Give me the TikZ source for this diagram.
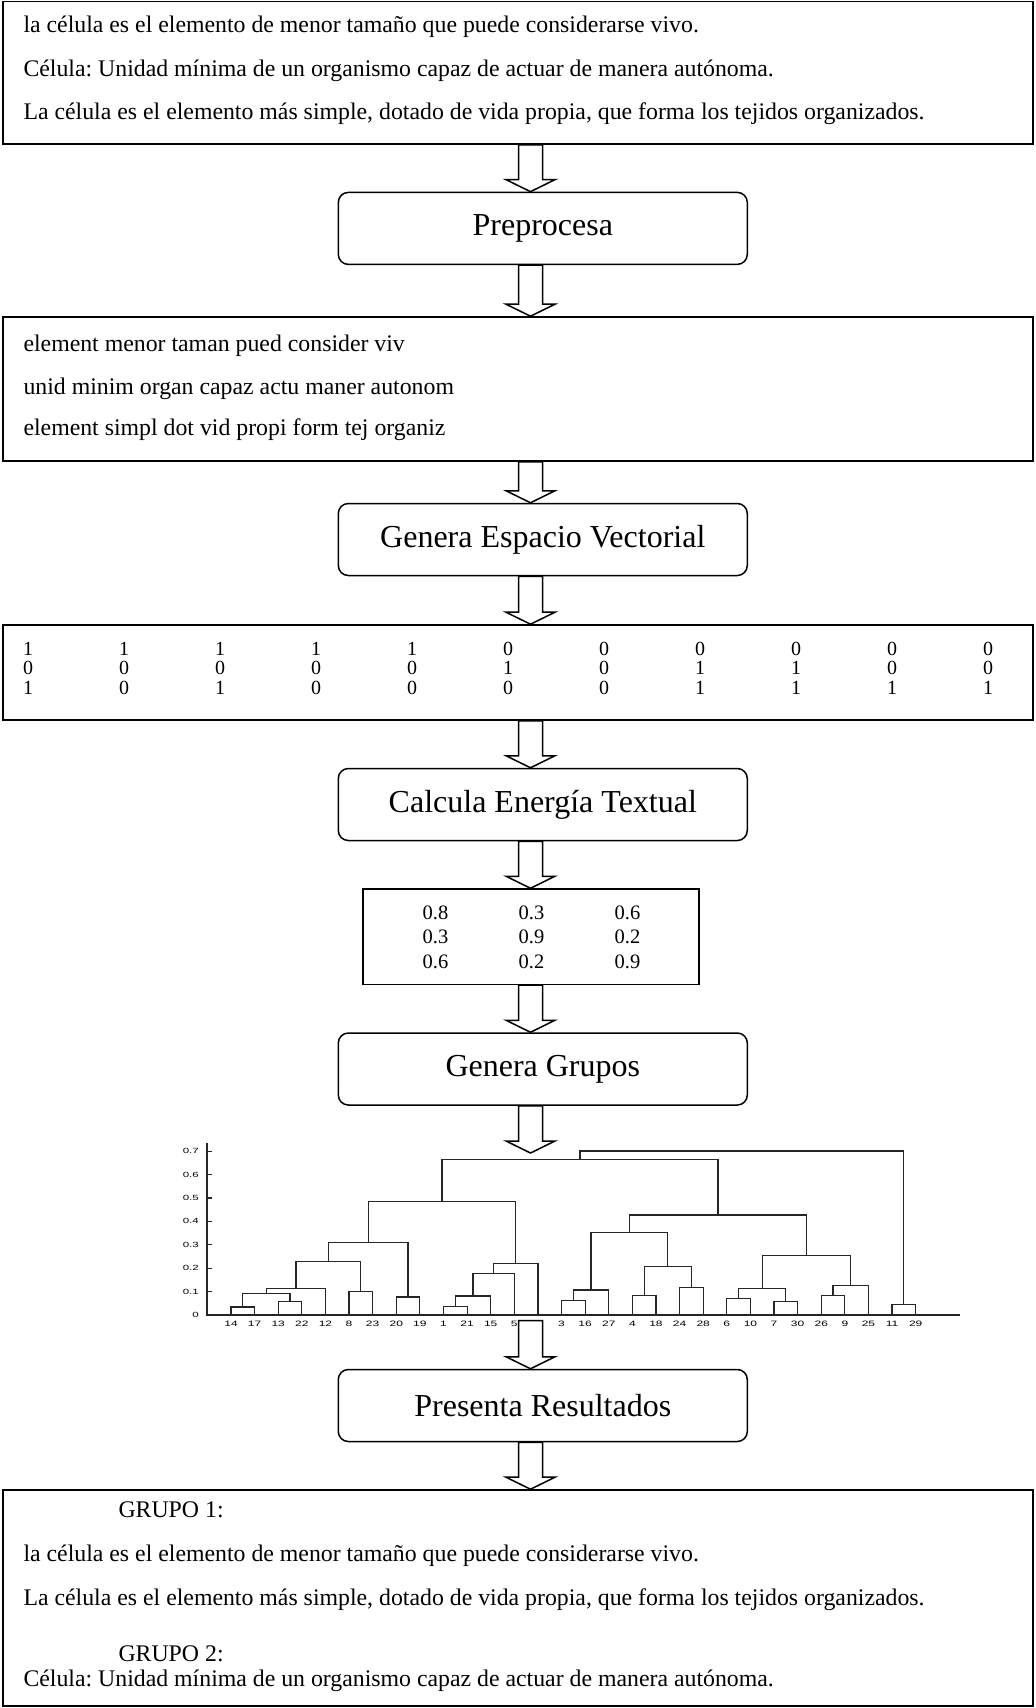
\documentclass[tikz,border=0pt]{standalone}
\usepackage{fontspec}
\setmainfont{Liberation Serif}
\setsansfont{Liberation Sans}
\usetikzlibrary{calc}
\frenchspacing
\tikzset{
  textbox/.style={draw,line width=1.6pt,minimum width=1030pt,inner sep=0pt},
  procbox/.style={draw,line width=1.5pt,rounded corners=10pt,minimum width=409pt,minimum height=72pt,font=\fontsize{32}{38}\selectfont},
  txtline/.style={anchor=base west,inner sep=0pt,font=\fontsize{23.8}{28}\selectfont},
  numtable/.style={anchor=base west,inner sep=0pt},
  bigarrow/.style={draw,fill=white,line width=1.5pt},
  branch/.style={line width=1.2pt,draw=black!85},
  ticklabel/.style={anchor=east,inner sep=0pt,font=\sffamily\fontsize{11.5}{10}\selectfont,yscale=0.65,transform shape},
  leaflabel/.style={anchor=base,inner sep=0pt,font=\sffamily\fontsize{12}{10}\selectfont,yscale=0.65,transform shape}
}
% hollow block arrow from one point (x taken from ax) down to another
\newcommand{\blockarrow}[2]{%
  \draw[bigarrow] ($(#1 -| ax)+(-12,0)$) -- ($(#2 -| ax)+(-12,-12)$) -- ($(#2 -| ax)+(-24.5,-12)$)
    -- (#2 -| ax) -- ($(#2 -| ax)+(24.5,-12)$) -- ($(#2 -| ax)+(12,-12)$) -- ($(#1 -| ax)+(12,0)$) -- cycle;}

\begin{document}
\begin{tikzpicture}[x=1pt,y=-1pt]
  \useasboundingbox (0,0) rectangle (1036,1708);
  \coordinate (ax) at (530.5,0);
  \coordinate (dtop) at (530.5,1153);
  \coordinate (dbot) at (530.5,1320.5);

  % input sentences
  \node[textbox,minimum height=142.5pt] (source) at (518,72.75) {};
  \node[txtline] (src1) at (23.3,32.7) {la célula es el elemento de menor tamaño que puede considerarse vivo.};
  \node[txtline] (src2) at (23.3,76) {Célula: Unidad mínima de un organismo capaz de actuar de manera autónoma.};
  \node[txtline] (src3) at (23.3,119) {La célula es el elemento más simple, dotado de vida propia, que forma los tejidos organizados.};

  \node[procbox] (prep) at (542.8,228.4) {Preprocesa};

  % stemmed sentences
  \node[textbox,minimum height=144pt] (stems) at (518,389) {};
  \node[txtline] (stem1) at (23.3,351.7) {element menor taman pued consider viv};
  \node[txtline] (stem2) at (23.3,394.2) {unid minim organ capaz actu maner autonom};
  \node[txtline] (stem3) at (23.3,435.5) {element simpl dot vid propi form tej organiz};

  \node[procbox] (vsm) at (542.8,539.5) {Genera Espacio Vectorial};

  % term vectors
  \node[textbox,minimum height=95pt] (vecbox) at (518,672.5) {};
  \node[numtable,font=\fontsize{20}{19.6}\selectfont] (vecs) at (23,655) {\setlength{\tabcolsep}{0pt}%
    \begin{tabular}[t]{*{10}{p{96pt}}l}
      1&1&1&1&1&0&0&0&0&0&0\\
      0&0&0&0&0&1&0&1&1&0&0\\
      1&0&1&0&0&0&0&1&1&1&1
    \end{tabular}};

  \node[procbox] (energy) at (542.8,804.5) {Calcula Energía Textual};

  % similarity matrix
  \node[draw,line width=1.6pt,minimum width=336.3pt,minimum height=95.3pt] (simbox) at (530.9,936.7) {};
  \node[numtable,font=\fontsize{20.5}{24.7}\selectfont] (sims) at (422.5,919) {\setlength{\tabcolsep}{0pt}%
    \begin{tabular}[t]{p{96pt}p{96pt}l}
      0.8&0.3&0.6\\
      0.3&0.9&0.2\\
      0.6&0.2&0.9
    \end{tabular}};

  \node[procbox] (clusters) at (542.8,1069) {Genera Grupos};

  % dendrogram axes
  \draw[branch] (207,1143) -- (207,1315) -- (960,1315);
  \draw[branch] (207,1315) -- ++(5,0) (207,1291.6) -- ++(5,0) (207,1268.2) -- ++(5,0) (207,1244.8) -- ++(5,0)
    (207,1221.4) -- ++(5,0) (207,1198) -- ++(5,0) (207,1174.6) -- ++(5,0) (207,1151.2) -- ++(5,0);
  \node[ticklabel] (h0) at (199,1315) {0};
  \node[ticklabel] (h1) at (199,1291.6) {0.1};
  \node[ticklabel] (h2) at (199,1268.2) {0.2};
  \node[ticklabel] (h3) at (199,1244.8) {0.3};
  \node[ticklabel] (h4) at (199,1221.4) {0.4};
  \node[ticklabel] (h5) at (199,1198) {0.5};
  \node[ticklabel] (h6) at (199,1174.6) {0.6};
  \node[ticklabel] (h7) at (199,1151.2) {0.7};

  \begin{scope}[xshift=231pt,yshift=-1315pt,x=23.61pt,y=234pt]
    \draw[branch] (0,0) |- (1,.034) -- (1,0);
    \draw[branch] (2,0) |- (3,.058) -- (3,0);
    \draw[branch] (0.5,.034) |- (2.5,.091) -- (2.5,.058);
    \draw[branch] (1.5,.091) |- (4,.115) -- (4,0);
    \draw[branch] (5,0) |- (6,.10) -- (6,0);
    \draw[branch] (2.75,.115) |- (5.5,.228) -- (5.5,.10);
    \draw[branch] (7,0) |- (8,.077) -- (8,0);
    \draw[branch] (4.125,.228) |- (7.5,.309) -- (7.5,.077);
    \draw[branch] (9,0) |- (10,.037) -- (10,0);
    \draw[branch] (9.5,.037) |- (11,.081) -- (11,0);
    \draw[branch] (10.25,.081) |- (12,.176) -- (12,0);
    \draw[branch] (11.125,.176) |- (13,.219) -- (13,0);
    \draw[branch] (5.8125,.309) |- (12.0625,.485) -- (12.0625,.219);
    \draw[branch] (14,0) |- (15,.063) -- (15,0);
    \draw[branch] (14.5,.063) |- (16,.107) -- (16,0);
    \draw[branch] (17,0) |- (18,.084) -- (18,0);
    \draw[branch] (19,0) |- (20,.118) -- (20,0);
    \draw[branch] (17.5,.084) |- (19.5,.209) -- (19.5,.118);
    \draw[branch] (15.25,.107) |- (18.5,.353) -- (18.5,.209);
    \draw[branch] (21,0) |- (22,.072) -- (22,0);
    \draw[branch] (23,0) |- (24,.058) -- (24,0);
    \draw[branch] (21.5,.072) |- (23.5,.115) -- (23.5,.058);
    \draw[branch] (25,0) |- (26,.082) -- (26,0);
    \draw[branch] (25.5,.082) |- (27,.125) -- (27,0);
    \draw[branch] (22.5,.115) |- (26.25,.255) -- (26.25,.125);
    \draw[branch] (16.875,.353) |- (24.375,.427) -- (24.375,.255);
    \draw[branch] (8.9375,.485) |- (20.625,.666) -- (20.625,.427);
    \draw[branch] (28,0) |- (29,.046) -- (29,0);
    \draw[branch] (14.78,.666) |- (28.5,.701) -- (28.5,.046);
    % leaf numbers
    \path (0,-.047) node[leaflabel] (l14) {14} (1,-.047) node[leaflabel] (l17) {17}
      (2,-.047) node[leaflabel] (l13) {13} (3,-.047) node[leaflabel] (l22) {22}
      (4,-.047) node[leaflabel] (l12) {12} (5,-.047) node[leaflabel] (l8) {8}
      (6,-.047) node[leaflabel] (l23) {23} (7,-.047) node[leaflabel] (l20) {20}
      (8,-.047) node[leaflabel] (l19) {19} (9,-.047) node[leaflabel] (l1) {1}
      (10,-.047) node[leaflabel] (l21) {21} (11,-.047) node[leaflabel] (l15) {15}
      (12,-.047) node[leaflabel] (l5) {5} (13,-.047) node[leaflabel] (l2) {2}
      (14,-.047) node[leaflabel] (l3) {3} (15,-.047) node[leaflabel] (l16) {16}
      (16,-.047) node[leaflabel] (l27) {27} (17,-.047) node[leaflabel] (l4) {4}
      (18,-.047) node[leaflabel] (l18) {18} (19,-.047) node[leaflabel] (l24) {24}
      (20,-.047) node[leaflabel] (l28) {28} (21,-.047) node[leaflabel] (l6) {6}
      (22,-.047) node[leaflabel] (l10) {10} (23,-.047) node[leaflabel] (l7) {7}
      (24,-.047) node[leaflabel] (l30) {30} (25,-.047) node[leaflabel] (l26) {26}
      (26,-.047) node[leaflabel] (l9) {9} (27,-.047) node[leaflabel] (l25) {25}
      (28,-.047) node[leaflabel] (l11) {11} (29,-.047) node[leaflabel] (l29) {29};
  \end{scope}

  \node[procbox] (present) at (542.8,1405.5) {Presenta Resultados};

  % groups found
  \node[textbox,minimum height=216pt] (result) at (518,1598) {};
  \node[txtline] (grp1) at (118.3,1517.3) {GRUPO 1:};
  \node[txtline] (res1) at (23.3,1561.7) {la célula es el elemento de menor tamaño que puede considerarse vivo.};
  \node[txtline] (res2) at (23.3,1605) {La célula es el elemento más simple, dotado de vida propia, que forma los tejidos organizados.};
  \node[txtline] (grp2) at (118.3,1661.7) {GRUPO 2:};
  \node[txtline] (res3) at (23.3,1686.7) {Célula: Unidad mínima de un organismo capaz de actuar de manera autónoma.};

  \blockarrow{source.south}{prep.north}
  \blockarrow{prep.south}{stems.north}
  \blockarrow{stems.south}{vsm.north}
  \blockarrow{vsm.south}{vecbox.north}
  \blockarrow{vecbox.south}{energy.north}
  \blockarrow{energy.south}{simbox.north}
  \blockarrow{simbox.south}{clusters.north}
  \blockarrow{clusters.south}{dtop}
  \blockarrow{dbot}{present.north}
  \blockarrow{present.south}{result.north}
\end{tikzpicture}
\end{document}
